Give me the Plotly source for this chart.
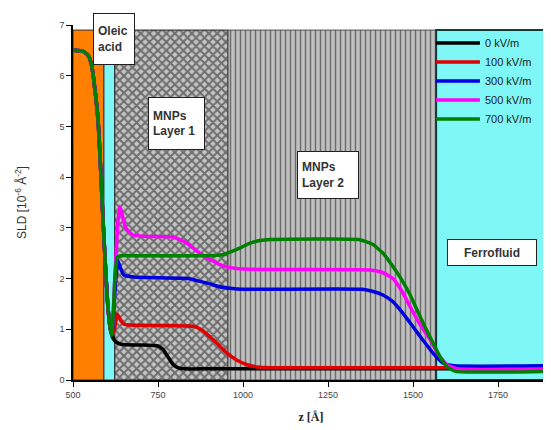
import plotly.graph_objects as go

# ---------------- data ----------------
series_names = ["0 kV/m", "100 kV/m", "300 kV/m", "500 kV/m", "700 kV/m"]
series_colors = ["#000000", "#e00000", "#0000e0", "#ff00ff", "#008000"]

z_0 = [500, 530, 545, 555, 565, 574, 581, 588, 595, 602, 610, 618, 628, 645, 700, 750, 765, 780, 795, 810, 830, 900, 1900]
sld_0 = [6.5, 6.48, 6.4, 6.2, 5.7, 5.1, 4.2, 3.2, 2.3, 1.5, 1.0, 0.82, 0.74, 0.70, 0.69, 0.67, 0.60, 0.45, 0.30, 0.24, 0.22, 0.22, 0.22]

z_100 = [500, 530, 545, 555, 565, 574, 581, 588, 595, 602, 610, 615, 622, 630, 640, 650, 680, 855, 880, 903, 930, 953, 980, 1012, 1050, 1100, 1900]
sld_100 = [6.5, 6.48, 6.4, 6.2, 5.7, 5.1, 4.2, 3.2, 2.3, 1.5, 1.0, 0.9, 1.0, 1.3, 1.18, 1.1, 1.08, 1.06, 0.98, 0.85, 0.68, 0.53, 0.40, 0.30, 0.25, 0.24, 0.24]

z_300 = [500, 530, 545, 555, 565, 574, 581, 588, 595, 602, 610, 615, 620, 626, 632, 640, 650, 680, 840, 870, 900, 930, 962, 1000, 1350, 1380, 1410, 1440, 1470, 1500, 1530, 1560, 1589, 1620, 1900]
sld_300 = [6.5, 6.48, 6.4, 6.2, 5.7, 5.1, 4.2, 3.2, 2.3, 1.5, 1.0, 0.92, 1.4, 2.0, 2.35, 2.2, 2.07, 2.03, 2.0, 1.95, 1.9, 1.84, 1.81, 1.79, 1.79, 1.75, 1.68, 1.55, 1.32, 1.05, 0.78, 0.52, 0.33, 0.28, 0.28]

z_500 = [500, 530, 545, 555, 565, 574, 581, 588, 595, 602, 610, 615, 620, 626, 632, 638, 645, 655, 676, 720, 794, 830, 873, 910, 941, 980, 1050, 1374, 1410, 1441, 1470, 1492, 1520, 1551, 1575, 1600, 1630, 1900]
sld_500 = [6.5, 6.48, 6.4, 6.2, 5.7, 5.1, 4.2, 3.2, 2.3, 1.5, 1.0, 0.95, 1.6, 2.4, 3.1, 3.42, 3.25, 3.0, 2.86, 2.83, 2.82, 2.72, 2.5, 2.35, 2.25, 2.2, 2.18, 2.17, 2.12, 2.0, 1.72, 1.44, 1.1, 0.79, 0.5, 0.3, 0.22, 0.22]

z_700 = [500, 530, 545, 555, 565, 574, 581, 588, 595, 602, 610, 614, 619, 624, 630, 640, 700, 900, 940, 962, 990, 1021, 1050, 1080, 1340, 1380, 1412, 1440, 1462, 1490, 1512, 1535, 1559, 1580, 1600, 1625, 1900]
sld_700 = [6.5, 6.48, 6.4, 6.2, 5.7, 5.1, 4.2, 3.2, 2.3, 1.5, 1.0, 0.88, 1.4, 2.1, 2.42, 2.45, 2.45, 2.45, 2.47, 2.52, 2.6, 2.7, 2.75, 2.77, 2.77, 2.68, 2.5, 2.25, 2.03, 1.7, 1.38, 1.05, 0.73, 0.45, 0.26, 0.17, 0.17]

series_z = [z_0, z_100, z_300, z_500, z_700]
series_sld = [sld_0, sld_100, sld_300, sld_500, sld_700]

region_labels = ["Oleic<br>acid", "MNPs<br>Layer 1", "MNPs<br>Layer 2", "Ferrofluid"]
region_start = [500, 591, 623, 956, 1568]
region_end = [591, 623, 956, 1568, 1900]
region_top = 6.9
label_x = [620.5, 804, 1250, 1732]
label_y = [6.73, 5.06, 4.04, 2.51]

x_ticks = [500, 750, 1000, 1250, 1500, 1750]
y_ticks = [0, 1, 2, 3, 4, 5, 6, 7]

# ---------------- figure ----------------
fig = go.Figure()

region_styles = [
    dict(fillcolor="#ff8000", line=dict(color="#303030", width=1)),
    dict(fillcolor="#7ff7f7", line=dict(color="#303030", width=1)),
    dict(fillcolor="rgba(0,0,0,0)", line=dict(color="#202020", width=1),
         fillpattern=dict(shape="x", bgcolor="#c4c4c4", fgcolor="#151515", size=6, solidity=0.55)),
    dict(fillcolor="rgba(0,0,0,0)", line=dict(color="#505050", width=1),
         fillpattern=dict(shape="|", bgcolor="#c0c0c0", fgcolor="#1a1a1a", size=5, solidity=0.3)),
    dict(fillcolor="#7ff7f7", line=dict(color="#123c3c", width=2)),
]
for s, e, st in zip(region_start, region_end, region_styles):
    fig.add_trace(go.Scatter(
        x=[s, s, e, e, s], y=[0, region_top, region_top, 0, 0],
        mode="lines", fill="toself", showlegend=False, hoverinfo="skip", **st))

for name, col, zz, ss in zip(series_names, series_colors, series_z, series_sld):
    fig.add_trace(go.Scatter(
        x=zz, y=ss, mode="lines", name=name,
        line=dict(color=col, width=3.5, shape="spline", smoothing=0.4)))

box_w = [32, 47, 52, 80]
box_h = [42, 43, 38, 17]
box_align = ["left", "left", "left", "center"]
for txt, lx, ly, bw, bh, al in zip(region_labels, label_x, label_y, box_w, box_h, box_align):
    fig.add_annotation(x=lx, y=ly, xref="x", yref="y", text="<b>" + txt + "</b>",
                       showarrow=False, bgcolor="white", bordercolor="#202020",
                       borderwidth=1, borderpad=4, width=bw, height=bh,
                       font=dict(family="Liberation Sans, Arial", size=12, color="#333333"),
                       align=al, valign="middle")

# page body has an 8px default margin: figure is sized so the plot lands at the right pixels
fig.update_layout(
    width=543, height=422,
    margin=dict(l=65, r=2, t=17, b=50, autoexpand=False),
    paper_bgcolor="white", plot_bgcolor="white",
    font=dict(family="Liberation Sans, Arial", size=9, color="#444444"),
    legend=dict(x=0.752, y=0.99, xanchor="left", yanchor="top",
                bgcolor="rgba(0,0,0,0)", borderwidth=0, itemwidth=44,
                font=dict(family="Liberation Sans, Arial", size=11, color="#222222"),
                tracegroupgap=0),
    showlegend=True,
)
fig.update_xaxes(range=[500, 1900], tickvals=x_ticks, ticks="outside", ticklen=5,
                 tickcolor="#000000", showline=True, linecolor="#000000", linewidth=1.5,
                 showgrid=False, zeroline=False, automargin=False,
                 title=dict(text="<b>z [Å]</b>", standoff=14,
                            font=dict(family="Liberation Serif, Times New Roman", size=12, color="#222222")))
fig.update_yaxes(range=[0, 7], tickvals=y_ticks, ticks="outside", ticklen=5,
                 tickcolor="#000000", showline=True, linecolor="#000000", linewidth=1.5,
                 showgrid=False, zeroline=False, automargin=False,
                 title=dict(text="SLD [10<sup>-6</sup> Å<sup>-2</sup>]", standoff=30,
                            font=dict(family="Liberation Sans, Arial", size=12, color="#333333")))

fig.write_html("out.html")
